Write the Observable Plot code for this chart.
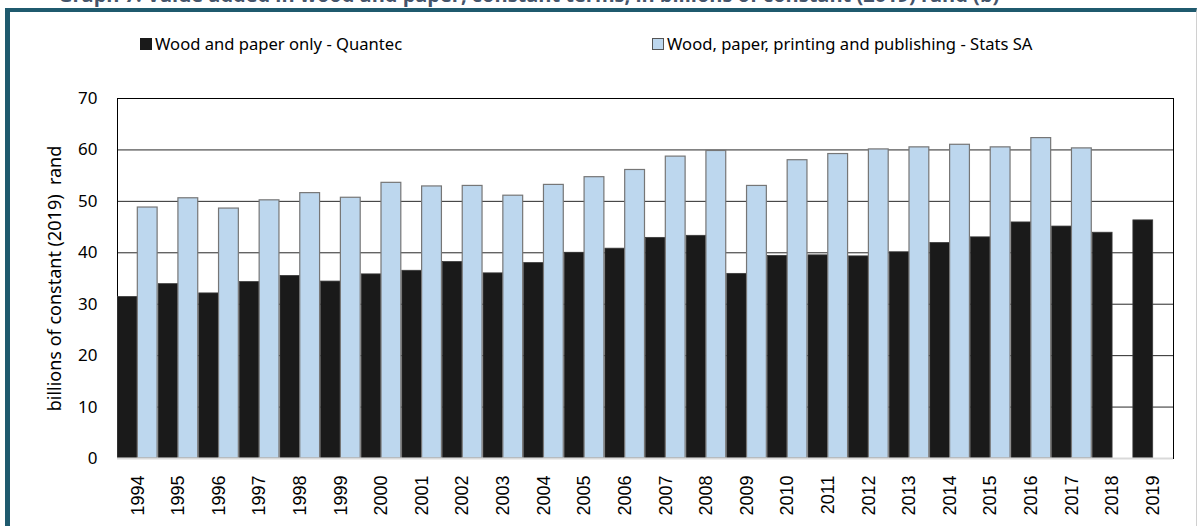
<!DOCTYPE html>
<html>
<head>
<meta charset="utf-8">
<script src="https://cdn.jsdelivr.net/npm/d3@7"></script>
<script src="https://cdn.jsdelivr.net/npm/@observablehq/plot@0.6"></script>
<style>
  html, body { margin: 0; padding: 0; background: #fff; }
  #wrap { position: relative; width: 1200px; height: 526px; overflow: hidden; background: #fff; }
  #title { position: absolute; left: 58px; top: -19px; font: bold 20px "Open Sans", sans-serif; color: #44546a; white-space: nowrap; }
  #frame { position: absolute; left: 5px; top: 8px; width: 1186px; height: 560px; border-left: 5px solid #1f5a6e; border-top: 4px solid #1f5a6e; border-right: 1px solid #d0d0d0; }
  #legend { position: absolute; top: 32px; left: 0; font: 16.6px "Noto Sans", sans-serif; color: #000; }
  .item { position: absolute; white-space: nowrap; display: flex; align-items: center; }
  .sw { width: 12px; height: 12px; margin-right: 3px; box-sizing: border-box; }
  #chart { position: absolute; left: 0; top: 0; }
</style>
</head>
<body>
<div id="wrap">
  <div id="title"></div>
  <div id="frame"></div>
  <div id="legend"></div>
  <div id="chart"></div>
</div>
<script>
const titleText = "Graph 7: Value added in wood and paper, constant terms, in billions of constant (2019) rand (b)";
const years = ["1994","1995","1996","1997","1998","1999","2000","2001","2002","2003","2004","2005","2006","2007","2008","2009","2010","2011","2012","2013","2014","2015","2016","2017","2018","2019"];
const quantec = [31.4, 33.9, 32.1, 34.3, 35.5, 34.4, 35.8, 36.5, 38.2, 36.0, 38.0, 40.0, 40.8, 42.9, 43.3, 35.9, 39.4, 39.5, 39.3, 40.1, 41.9, 43.0, 45.9, 45.1, 43.9, 46.3];
const statsSA = [48.8, 50.6, 48.6, 50.2, 51.6, 50.7, 53.6, 52.9, 53.0, 51.1, 53.2, 54.7, 56.1, 58.7, 59.8, 53.0, 58.0, 59.2, 60.1, 60.5, 61.0, 60.5, 62.3, 60.3, null, null];
const seriesNames = ["Wood and paper only - Quantec", "Wood, paper, printing and publishing - Stats SA"];
const seriesFill = ["#1a1a1a", "#bdd7ee"];
const seriesStroke = ["#3a3a3a", "#767676"];
const yTicks = [0, 10, 20, 30, 40, 50, 60, 70];
const yTitle = "billions of constant (2019)\u00a0 rand";

document.getElementById("title").textContent = titleText;

// legend
const legend = document.getElementById("legend");
const legendX = [140, 652];
seriesNames.forEach((name, i) => {
  const it = document.createElement("div");
  it.className = "item";
  it.style.left = legendX[i] + "px";
  const sw = document.createElement("span");
  sw.className = "sw";
  sw.style.background = seriesFill[i];
  sw.style.border = "1px solid " + (i === 0 ? "#1a1a1a" : "#555");
  const tx = document.createElement("span");
  tx.textContent = name;
  it.appendChild(sw); it.appendChild(tx);
  legend.appendChild(it);
});

const dataQ = years.map((y, i) => ({year: y, value: quantec[i]}));
const dataS = years.map((y, i) => ({year: y, value: statsSA[i]})).filter(d => d.value != null);

const W = 1200, H = 526, mL = 117, mR = 27, mT = 98, mB = 68;
const bw = (W - mL - mR) / years.length;

const chart = Plot.plot({
  width: W, height: H,
  marginLeft: mL, marginRight: mR, marginTop: mT, marginBottom: mB,
  style: {background: "transparent", fontFamily: "'Noto Sans', sans-serif", fontSize: "16px", color: "#000"},
  x: {type: "band", domain: years, padding: 0, round: false, label: null},
  y: {domain: [0, 70], label: null},
  marks: [
    Plot.ruleY(yTicks.filter(t => t > 0), {stroke: "#000", strokeWidth: 1, strokeOpacity: 0.85}),
    Plot.frame({stroke: "#000", strokeWidth: 1}),
    Plot.barY(dataQ, {x: "year", y: "value", fill: seriesFill[0], stroke: seriesStroke[0], strokeWidth: 0.8, insetRight: bw / 2, insetLeft: 0.5}),
    Plot.barY(dataS, {x: "year", y: "value", fill: seriesFill[1], stroke: seriesStroke[1], strokeWidth: 1.2, insetLeft: bw / 2, insetRight: 0.5}),
    Plot.ruleY([0], {stroke: "#d9d9d9", strokeWidth: 2}),
    Plot.axisY({ticks: yTicks, tickSize: 0, tickPadding: 20, fontSize: 17, label: null}),
    Plot.axisX({tickSize: 0, tickRotate: -90, tickPadding: 17, fontSize: 18, fontFamily: "'Liberation Sans', Arial, sans-serif", label: null}),
    Plot.text([yTitle], {frameAnchor: "left", textAnchor: "middle", rotate: -90, dx: -62, fontSize: 18})
  ]
});
document.getElementById("chart").appendChild(chart);
</script>
</body>
</html>
